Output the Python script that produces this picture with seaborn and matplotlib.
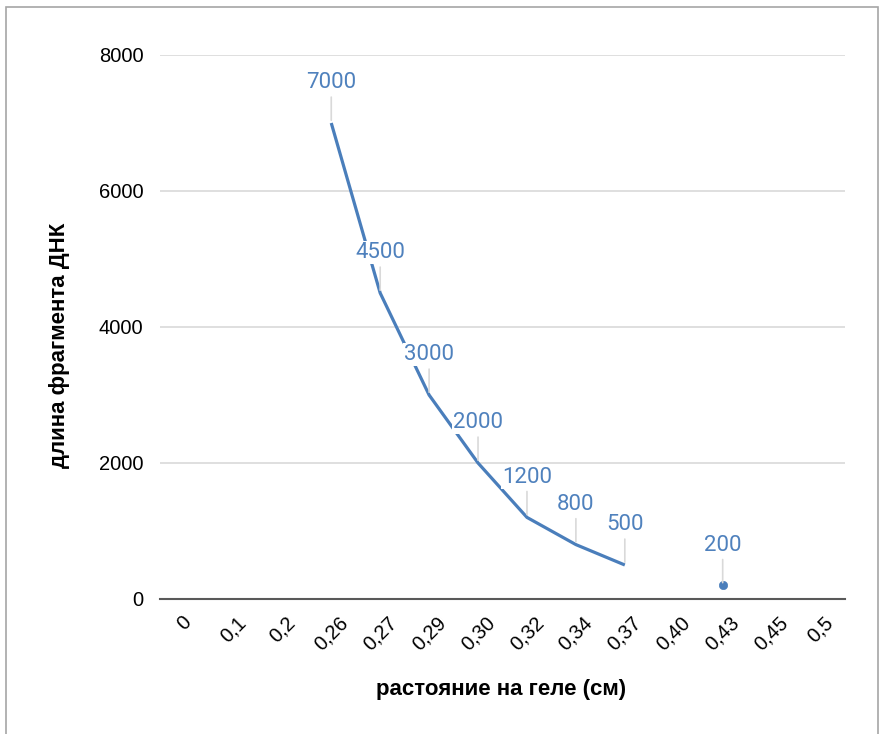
import numpy as np
import pandas as pd
import seaborn as sns
import matplotlib
matplotlib.use("Agg")
import matplotlib.pyplot as plt
from matplotlib.patches import Rectangle
import matplotlib.transforms as mtransforms

# ---- data ----
x_labels = ["0", "0,1", "0,2", "0,26", "0,27", "0,29", "0,30", "0,32",
            "0,34", "0,37", "0,40", "0,43", "0,45", "0,5"]
dna_length = [None, None, None, 7000, 4500, 3000, 2000, 1200,
              800, 500, None, 200, None, None]
y_ticks = [0, 2000, 4000, 6000, 8000]
x_title = "растояние на геле (см)"
y_title = "длина фрагмента ДНК"

line_color = "#4a7ebb"
label_color = "#4f81bd"

sns.set_theme(style="white")
plt.rcParams['font.family'] = ['Liberation Sans', 'DejaVu Sans']
plt.rcParams['text.color'] = '#000000'

df = pd.DataFrame({"pos": np.arange(len(x_labels)),
                   "label": x_labels,
                   "value": [np.nan if v is None else v for v in dna_length]})
# segment ids for contiguous runs
df["seg"] = df["value"].isna().cumsum()
valid = df.dropna(subset=["value"]).copy()
counts = valid.groupby("seg")["value"].transform("size")
lines_df = valid[counts > 1]
points_df = valid[counts == 1]

fig = plt.figure(figsize=(8.85, 7.34), dpi=100)
ax = fig.add_axes([160/885, 1-599/734, 685/885, 544/734])

sns.lineplot(data=lines_df, x="pos", y="value", units="seg", estimator=None,
             color=line_color, lw=2.3, ax=ax, zorder=3, solid_capstyle="butt")
sns.scatterplot(data=points_df, x="pos", y="value", color=line_color, s=36,
                edgecolor=line_color, ax=ax, zorder=3)

for _, r in valid.iterrows():
    ax.annotate(f"{int(r['value'])}", xy=(r["pos"], r["value"]),
                xytext=(0, 29), textcoords="offset points",
                ha="center", va="center", fontsize=16, color=label_color,
                family=["Roboto", "DejaVu Sans"], zorder=5,
                bbox=dict(boxstyle="square,pad=0.05", fc="white", ec="none"),
                arrowprops=dict(arrowstyle="-", color="#d9d9d9", lw=1.2,
                                shrinkA=2, shrinkB=2))

ax.set_xlim(-0.5, len(x_labels) - 0.5)
ax.set_ylim(0, 8000)
ax.set_yticks(y_ticks)
ax.set_yticklabels([str(t) for t in y_ticks], fontsize=14.5, color="#000000")
ax.set_xticks(df["pos"])
ax.set_xticklabels(x_labels, fontsize=14.5, rotation=45, ha="center",
                   color="#000000")
offset = mtransforms.ScaledTranslation(-7/100, 0, fig.dpi_scale_trans)
for lab in ax.get_xticklabels():
    lab.set_transform(lab.get_transform() + offset)
ax.tick_params(axis="both", length=0)
ax.tick_params(axis="x", pad=10)
ax.tick_params(axis="y", pad=12)

ax.grid(axis="y", color="#d9d9d9", lw=1.2)
ax.set_axisbelow(True)
for s in ["top", "right", "left"]:
    ax.spines[s].set_visible(False)
ax.spines["bottom"].set_color("#595959")
ax.spines["bottom"].set_linewidth(1.5)

ax.set_xlabel("")
ax.set_ylabel("")
fig.text(501/885, 1-690/734, x_title, ha="center", va="center",
         fontsize=16, fontweight="bold", color="#000000")
fig.text(60/885, 1-345/734, y_title, ha="center", va="center",
         rotation=90, fontsize=16, fontweight="bold", color="#000000")

fig.patches.append(Rectangle((6/885, -0.05), 872/885, 1.05 - 7/734,
                             transform=fig.transFigure, fill=False,
                             ec="#a6a6a6", lw=1.2))

fig.savefig("out.png", dpi=100)
